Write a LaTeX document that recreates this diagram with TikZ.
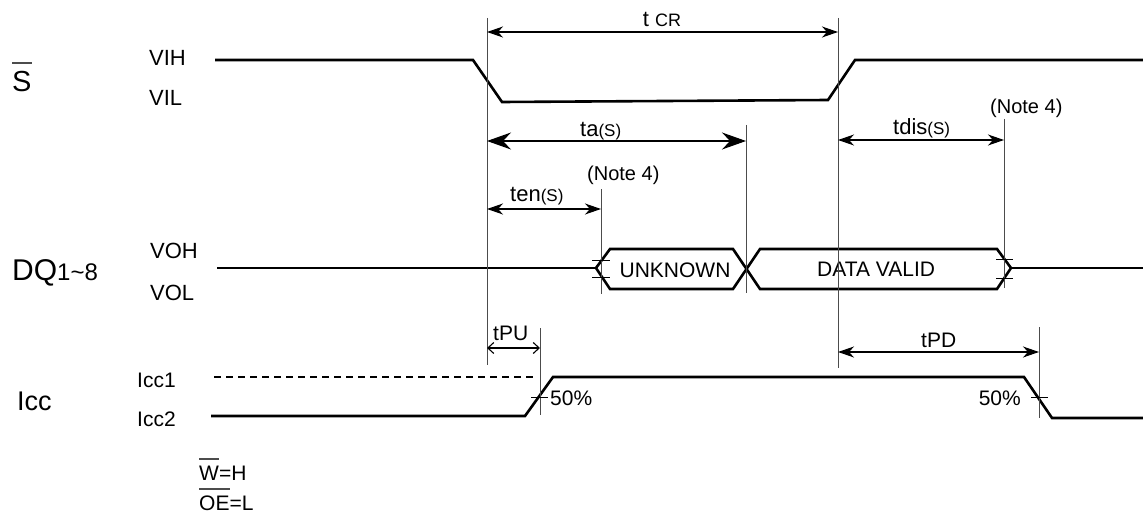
\documentclass[tikz,border=0pt]{standalone}
\usepackage{fontspec}
\setmainfont{Liberation Sans}
\usetikzlibrary{arrows.meta}
\newcommand{\fs}[1]{\fontsize{#1}{#1}\selectfont}
\newlength{\barwd}
\newcommand{\ovbar}[1]{\settowidth{\barwd}{#1}\rlap{\color{black!70}\rule[0.97em]{\barwd}{0.06em}}#1}

\begin{document}
\begin{tikzpicture}[
		x=1pt, y=-1pt,
		sig/.style={line width=2.6pt},
		ref/.style={line width=0.9pt, black!70},
		dim/.style={line width=1.1pt, {Stealth[length=16pt,width=11pt,inset=5pt]}-{Stealth[length=16pt,width=11pt,inset=5pt]}},
		bigdim/.style={line width=1.1pt, {Stealth[length=24pt,width=17pt,inset=8pt]}-{Stealth[length=24pt,width=17pt,inset=8pt]}},
		smalldim/.style={line width=1.1pt, {Straight Barb[length=6pt,width=11pt]}-{Straight Barb[length=6pt,width=11pt]}},
		txt/.style={inner sep=0pt, anchor=base west, font=\fs{22}},
		tick/.style={line width=0.9pt}]

	\useasboundingbox (0,0) rectangle (1143,524);

	% time marks
	\coordinate (t_s_fall) at (487,0);
	\coordinate (t_en) at (601,0);
	\coordinate (t_pu) at (540,0);
	\coordinate (t_a) at (746,0);
	\coordinate (t_s_rise) at (838,0);
	\coordinate (t_dis) at (1004,0);
	\coordinate (t_pd) at (1039,0);

	% signal names
	\node[txt, font=\fs{29}] (s_name) at (12,92) {\ovbar{S}};
	\node[txt] (vih) at (149,66) {VIH};
	\node[txt] (vil) at (149,106) {VIL};
	\node[txt, font=\fs{30}] (dq_name) at (12,280) {DQ\fs{24}1\textasciitilde 8};
	\node[txt] (voh) at (150,258) {VOH};
	\node[txt] (vol) at (150,300) {VOL};
	\node[txt, font=\fs{27}] (icc_name) at (17,410) {Icc};
	\node[txt, font=\fs{21}] (icc1) at (137,387) {Icc1};
	\node[txt, font=\fs{21}] (icc2) at (137,426) {Icc2};
	\node[txt, font=\fs{21}] (w_high) at (199,480) {\ovbar{W}=H};
	\node[txt, font=\fs{21}] (oe_low) at (199,510) {\ovbar{OE}=L};

	% S
	\draw[sig] (215,60) -- (473,60) -- (502,102) -- (828,100) -- (855,60) -- (1143,60);

	% DQ
	\draw[sig] (217,268) -- (596,268);
	\draw[sig] (596,268) -- (610,249) -- (733,249) -- (760,289) -- (997,289) -- (1011,268)
		-- (997,249) -- (760,249) -- (733,289) -- (610,289) -- cycle;
	\draw[sig] (1011,268) -- (1143,268);
	\node[inner sep=0pt, anchor=base, font=\fs{21}] (unknown) at (675,277) {UNKNOWN};
	\node[txt, font=\fs{21}] (data_valid) at (817,276) {DATA VALID};

	% Icc
	\draw[line width=1.3pt, dash pattern=on 7pt off 5pt] (214,377) -- (537,377);
	\draw[sig] (211,416) -- (525,416) -- (553,377) -- (1024,377) -- (1052,418) -- (1143,418);

	% reference lines
	\draw[ref] (t_s_fall |- 0,18) -- (t_s_fall |- 0,365);
	\draw[ref] (t_s_rise |- 0,18) -- (t_s_rise |- 0,368);
	\draw[ref] (t_a |- 0,125) -- (t_a |- 0,293);
	\draw[ref] (t_en |- 0,189) -- (t_en |- 0,294);
	\draw[ref] (t_dis |- 0,119) -- (t_dis |- 0,288);
	\draw[ref] (t_pu |- 0,328) -- (t_pu |- 0,415);
	\draw[ref] (t_pd |- 0,327) -- (t_pd |- 0,418);

	% crossing ticks
	\draw[tick] (592,260) -- (610,260) (592,277) -- (610,277);
	\draw[tick] (996,259) -- (1013,259) (996,278) -- (1013,278);
	\draw[tick] (531,397) -- (548,397);
	\draw[tick] (1031,397) -- (1048,397);

	% timing
	\draw[dim] (t_s_fall |- 0,32) -- (t_s_rise |- 0,32);
	\node[inner sep=0pt, anchor=base, font=\fs{22}] (t_cr) at (662,27) {t \fs{18}CR};
	\draw[bigdim] (t_s_fall |- 0,141) -- (t_a |- 0,141);
	\node[txt] (t_a_lbl) at (580,137) {ta\fs{17}(S)};
	\draw[dim] (t_s_rise |- 0,140) -- (t_dis |- 0,140);
	\node[txt] (t_dis_lbl) at (893,135) {tdis\fs{17}(S)};
	\node[txt, font=\fs{20}] (note_dis) at (990,114) {(Note 4)};
	\draw[dim] (t_s_fall |- 0,209) -- (t_en |- 0,209);
	\node[txt] (t_en_lbl) at (510,201) {ten\fs{17}(S)};
	\node[txt, font=\fs{20}] (note_en) at (587,180) {(Note 4)};
	\draw[smalldim] (t_s_fall |- 0,348) -- (t_pu |- 0,348);
	\node[txt, font=\fs{21}] (t_pu_lbl) at (493,340) {tPU};
	\draw[dim] (t_s_rise |- 0,352) -- (t_pd |- 0,352);
	\node[txt, font=\fs{21}] (t_pd_lbl) at (921,347) {tPD};
	\node[txt, font=\fs{21}] (pu_half) at (550,405) {50\%};
	\node[inner sep=0pt, anchor=base east, font=\fs{21}] (pd_half) at (1021,405) {50\%};

\end{tikzpicture}
\end{document}
